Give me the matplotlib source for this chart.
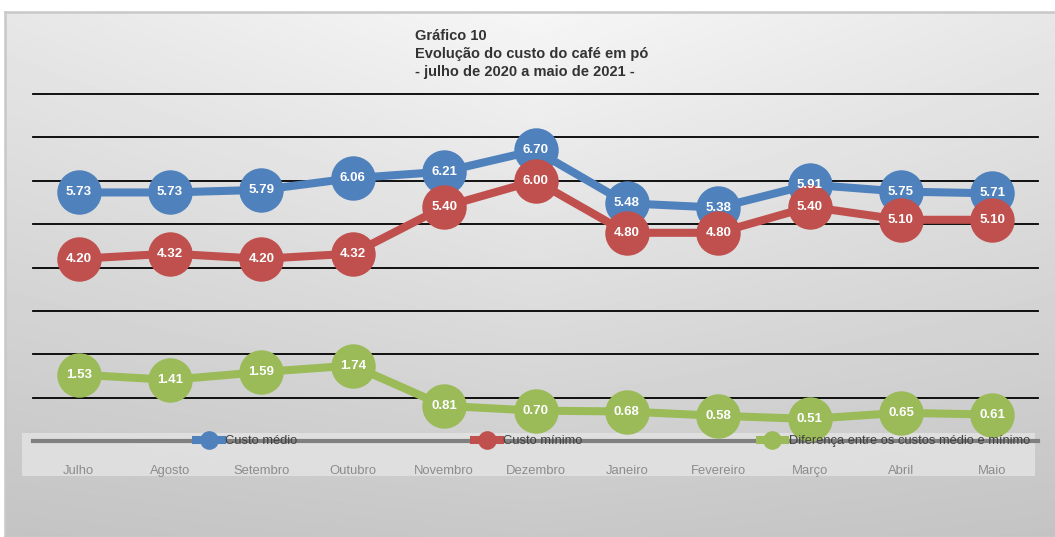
import matplotlib.pyplot as plt
from matplotlib.patches import Rectangle
import numpy as np

meses = ["Julho", "Agosto", "Setembro", "Outubro", "Novembro", "Dezembro",
         "Janeiro", "Fevereiro", "Março", "Abril", "Maio"]
custo_medio = [5.73, 5.73, 5.79, 6.06, 6.21, 6.70, 5.48, 5.38, 5.91, 5.75, 5.71]
custo_minimo = [4.20, 4.32, 4.20, 4.32, 5.40, 6.00, 4.80, 4.80, 5.40, 5.10, 5.10]
diferenca = [1.53, 1.41, 1.59, 1.74, 0.81, 0.70, 0.68, 0.58, 0.51, 0.65, 0.61]

series = [
    ("Custo médio", custo_medio, "#4F81BD"),
    ("Custo mínimo", custo_minimo, "#C0504D"),
    ("Diferença entre os custos médio e mínimo", diferenca, "#9BBB59"),
]

plt.rcParams['font.family'] = ['Liberation Sans', 'DejaVu Sans']

W, H = 1055, 537
fig = plt.figure(figsize=(W / 100, H / 100), dpi=100)
fig.patch.set_facecolor("white")

# gradient background of the chart area
bg = fig.add_axes([5 / W, 0, 1 - 5 / W + 0.01, 525 / H], zorder=-2)
yy, xx = np.mgrid[0:1:300j, 0:1:600j]
hx = np.abs(xx - 0.5) * 2
grad = 0.965 - 0.06 * hx * (1 - 0.7 * yy) - 0.18 * yy
bg.imshow(grad, cmap="gray", vmin=0, vmax=1, aspect="auto", extent=(0, 1, 0, 1), origin="upper")
bg.set_xlim(0, 1)
bg.set_ylim(0, 1)
bg.set_xticks([])
bg.set_yticks([])
for s in bg.spines.values():
    s.set_color("#c8c8c8")
    s.set_linewidth(1.8)

# lighter band behind legend / category labels
fig.patches.append(Rectangle((22 / W, (H - 476) / H), (1035 - 22) / W, 43 / H,
                             transform=fig.transFigure, facecolor="#e4e4e4",
                             edgecolor="none", alpha=0.8, zorder=-1))

ax = fig.add_axes([33 / W, (H - 441) / H, (1038 - 33) / W, (441 - 94) / H])
ax.patch.set_alpha(0)
x = np.arange(len(meses))
ax.set_xlim(-0.5, len(meses) - 0.5)
ax.set_ylim(0, 8)

for v in range(1, 9):
    ax.axhline(v, color="black", lw=1.3, zorder=1, clip_on=False)
ax.axhline(0, color="#808080", lw=3, zorder=1, clip_on=False)

for nome, vals, cor in series:
    ax.plot(x, vals, color=cor, lw=5.8, marker="o", markersize=32,
            markeredgewidth=0, label=nome, zorder=3, clip_on=False)
    for xi, v in zip(x, vals):
        ax.text(xi, v, f"{v:.2f}", color="white", fontsize=9.5, fontweight="bold",
                ha="center", va="center", zorder=4)

for s in ax.spines.values():
    s.set_visible(False)
ax.set_yticks([])
ax.set_xticks(x)
ax.set_xticklabels(meses, color="#8c8c8c", fontsize=9.4)
ax.tick_params(axis="x", length=0, pad=17)

leg = ax.legend(loc="center", bbox_to_anchor=(0.577, 0.0), ncol=3, frameon=False,
                fontsize=9.3, markerscale=0.42, handlelength=2.0, handletextpad=0.25,
                columnspacing=13.7, borderaxespad=0)
for t in leg.get_texts():
    t.set_color("#404040")
leg.set_zorder(5)

fig.text(415 / W, 1 - 29 / H, "Gráfico 10\nEvolução do custo do café em pó\n- julho de 2020 a maio de 2021 -",
         ha="left", va="top", fontsize=10.5, fontweight="bold", color="#333333",
         linespacing=1.35)

fig.savefig("out.png", dpi=100)
